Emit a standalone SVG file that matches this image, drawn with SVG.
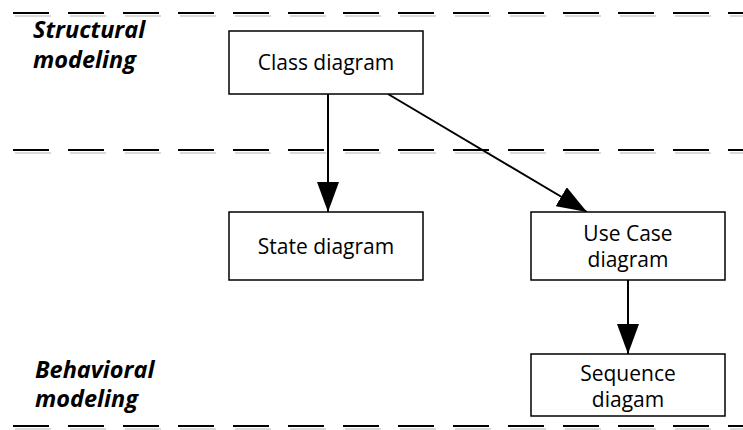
<svg xmlns="http://www.w3.org/2000/svg" width="743" height="430" viewBox="0 0 743 430">
  <style>
    .lane { fill: none; stroke: #000; stroke-width: 2.2; stroke-dasharray: 36 19; }
    .lane-shadow { fill: none; stroke: #d9d9d9; stroke-width: 2.2; stroke-dasharray: 36 19; }
    .box { fill: #fff; stroke: #000; stroke-width: 1.5; }
    .label { font-family: "Open Sans", "Liberation Sans", sans-serif; font-size: 21px; fill: #000; text-anchor: middle; }
    .zone { font-family: "Open Sans", "Liberation Sans", sans-serif; font-size: 23.5px; font-weight: bold; font-style: italic; fill: #000; }
    .edge { fill: none; stroke: #000; stroke-width: 2; }
  </style>
  <defs>
    <marker id="arrow" markerUnits="userSpaceOnUse" markerWidth="30" markerHeight="22" refX="30" refY="11" orient="auto">
      <path d="M0,0 L30,11 L0,22 z" fill="#000"/>
    </marker>
  </defs>

  <rect width="743" height="430" fill="#fff"/>

  <!-- swimlane separators -->
  <g id="lanes">
    <line class="lane-shadow" x1="15" y1="16" x2="745" y2="16"/>
    <line class="lane" x1="13" y1="13" x2="743" y2="13"/>
    <line class="lane-shadow" x1="15" y1="153" x2="745" y2="153"/>
    <line class="lane" x1="13" y1="150" x2="743" y2="150"/>
    <line class="lane-shadow" x1="15" y1="429" x2="745" y2="429"/>
    <line class="lane" x1="13" y1="426" x2="743" y2="426"/>
  </g>

  <!-- lane titles -->
  <g id="zone-structural">
    <text class="zone" x="33" y="38">Structural</text>
    <text class="zone" x="33" y="68">modeling</text>
  </g>
  <g id="zone-behavioral">
    <text class="zone" x="35" y="378">Behavioral</text>
    <text class="zone" x="35" y="407">modeling</text>
  </g>

  <!-- connectors -->
  <g id="connectors">
    <line class="edge" x1="328" y1="94" x2="328" y2="212" marker-end="url(#arrow)"/>
    <line class="edge" x1="388" y1="94" x2="587" y2="212" marker-end="url(#arrow)"/>
    <line class="edge" x1="628" y1="280" x2="628" y2="354" marker-end="url(#arrow)"/>
  </g>

  <!-- nodes -->
  <g id="class-diagram">
    <rect class="box" x="229" y="31" width="194" height="63"/>
    <text class="label" x="326" y="70">Class diagram</text>
  </g>
  <g id="state-diagram">
    <rect class="box" x="229" y="212" width="194" height="68"/>
    <text class="label" x="326" y="254">State diagram</text>
  </g>
  <g id="use-case-diagram">
    <rect class="box" x="531" y="212" width="194" height="68"/>
    <text class="label" x="628" y="241">Use Case</text>
    <text class="label" x="628" y="267">diagram</text>
  </g>
  <g id="sequence-diagram">
    <rect class="box" x="531" y="354" width="194" height="62"/>
    <text class="label" x="628" y="381">Sequence</text>
    <text class="label" x="628" y="407">diagam</text>
  </g>
</svg>
